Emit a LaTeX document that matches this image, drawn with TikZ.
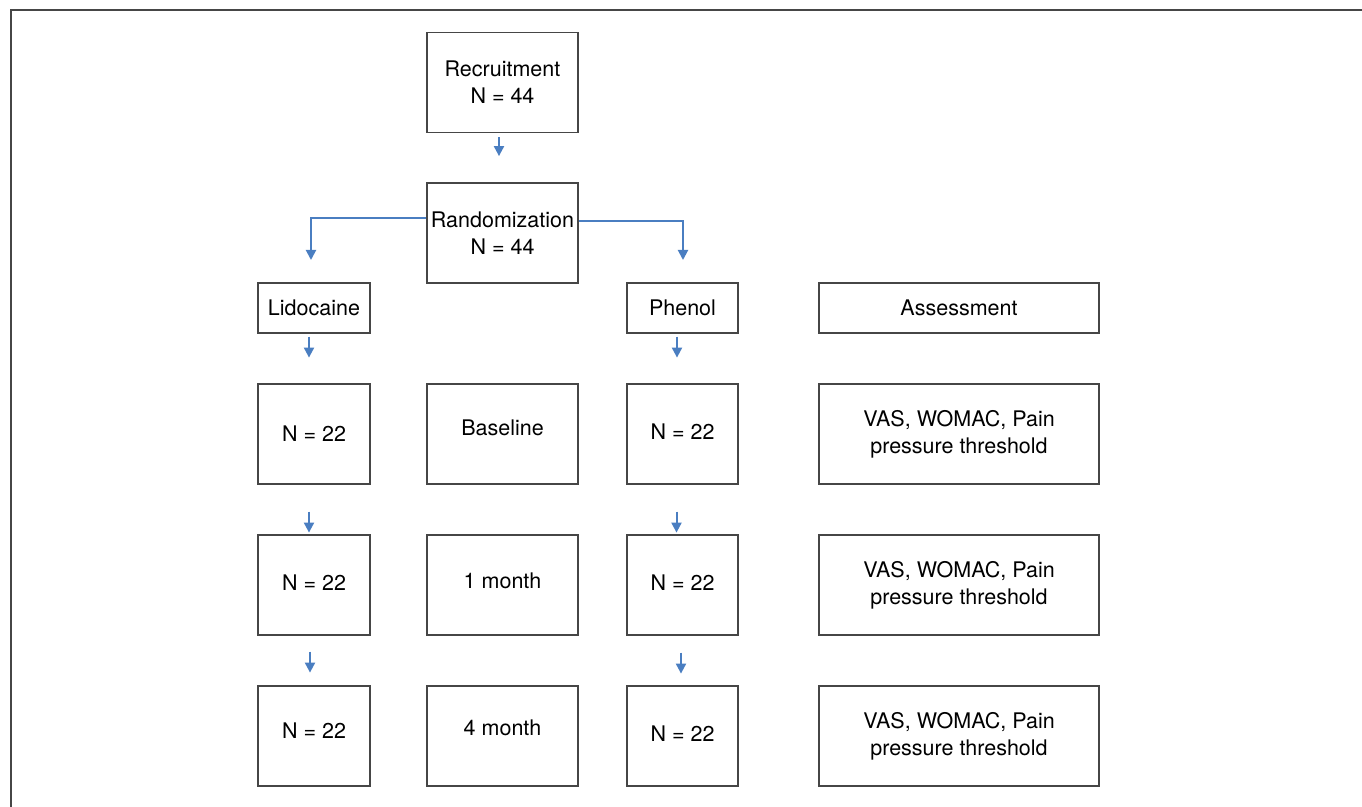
\documentclass[tikz,border=0pt]{standalone}
\usepackage{fontspec}
\setmainfont{TeX Gyre Heros}
\usepackage{xcolor}
\usetikzlibrary{arrows, arrows.meta}
\usetikzlibrary{positioning}
\usetikzlibrary{calc}
\definecolor{flowblue}{RGB}{74,126,193}
\definecolor{boxgray}{RGB}{70,70,70}
\newcommand{\lift}[2]{\raisebox{#1}[\height][\depth]{#2}}
\tikzset{
  box/.style={draw=boxgray, line width=0.6pt, align=center, inner sep=0pt,
    font=\fontsize{10.75}{13.5}\selectfont},
  widebox/.style={box, minimum width=75.5pt, minimum height=50pt},
  armbox/.style={box, minimum width=56pt, minimum height=50pt},
  evalbox/.style={box, minimum width=140pt, minimum height=50pt},
  arr/.style={-{Triangle[width=5pt,length=5pt]}, flowblue, line width=1pt}
}
\begin{document}
\begin{tikzpicture}[x=0.5pt, y=-0.5pt]
					\useasboundingbox (0,0) rectangle (1362,807);
					
					%frame
					\draw[boxgray, line width=1pt] (11,807) -- (11,10) -- (1362,10);
					
					%top
					\node[widebox] (rec) at (502.5,82.5) {Recruitment\\N = 44};
					\node[widebox] (rand) at (502.5,233) {Randomization\\N = 44};
					\node[armbox, minimum height=25pt] (lido) at (314,308) {Lidocaine};
					\node[armbox, minimum width=55.5pt, minimum height=25pt] (phen) at (682.5,308) {Phenol};
					\node[evalbox, minimum height=25pt] (assess) at (959,308) {Assessment};
					
					%rows
					\node[armbox] (lidoA) at (314,434) {N = 22};
					\node[widebox] (base) at (502.5,434) {\lift{3pt}{Baseline}};
					\node[armbox, minimum width=55.5pt] (phenA) at (682.5,434) {\lift{1pt}{N = 22}};
					\node[evalbox] (evalA) at (959,434) {VAS, WOMAC, Pain\\pressure threshold};
					
					\node[armbox] (lidoB) at (314,585) {\lift{1pt}{N = 22}};
					\node[widebox] (month1) at (502.5,585) {\lift{2pt}{1 month}};
					\node[armbox, minimum width=55.5pt] (phenB) at (682.5,585) {\lift{1pt}{N = 22}};
					\node[evalbox] (evalB) at (959,585) {VAS, WOMAC, Pain\\pressure threshold};
					
					\node[armbox] (lidoC) at (314,736) {\lift{2.5pt}{N = 22}};
					\node[widebox] (month4) at (502.5,736) {\lift{4pt}{4 month}};
					\node[armbox, minimum width=55.5pt] (phenC) at (682.5,736) {\lift{1pt}{N = 22}};
					\node[evalbox] (evalC) at (959,736) {VAS, WOMAC, Pain\\pressure threshold};
					
					%split
					\coordinate (lidoin) at (311,260);
					\coordinate (phenin) at (683,260);
					\draw[arr] ([yshift=7.5pt]rand.west) -| (lidoin);
					\draw[arr] ([yshift=6pt]rand.east) -| (phenin);
					
					% short arrows
					\draw[arr] ($(rec.south)+(-3.5,4)$) -- ++(0,19);
					\draw[arr] ($(lido.south)+(-5,3)$) -- ++(0,21);
					\draw[arr] ($(phen.south)+(-5.5,3)$) -- ++(0,21);
					\draw[arr] ($(lidoA.south)+(-5,27)$) -- ++(0,21);
					\draw[arr] ($(phenA.south)+(-6,27)$) -- ++(0,21);
					\draw[arr] ($(lidoB.south)+(-4,16)$) -- ++(0,21);
					\draw[arr] ($(phenB.south)+(-1.5,17)$) -- ++(0,21);
				\end{tikzpicture}
\end{document}
